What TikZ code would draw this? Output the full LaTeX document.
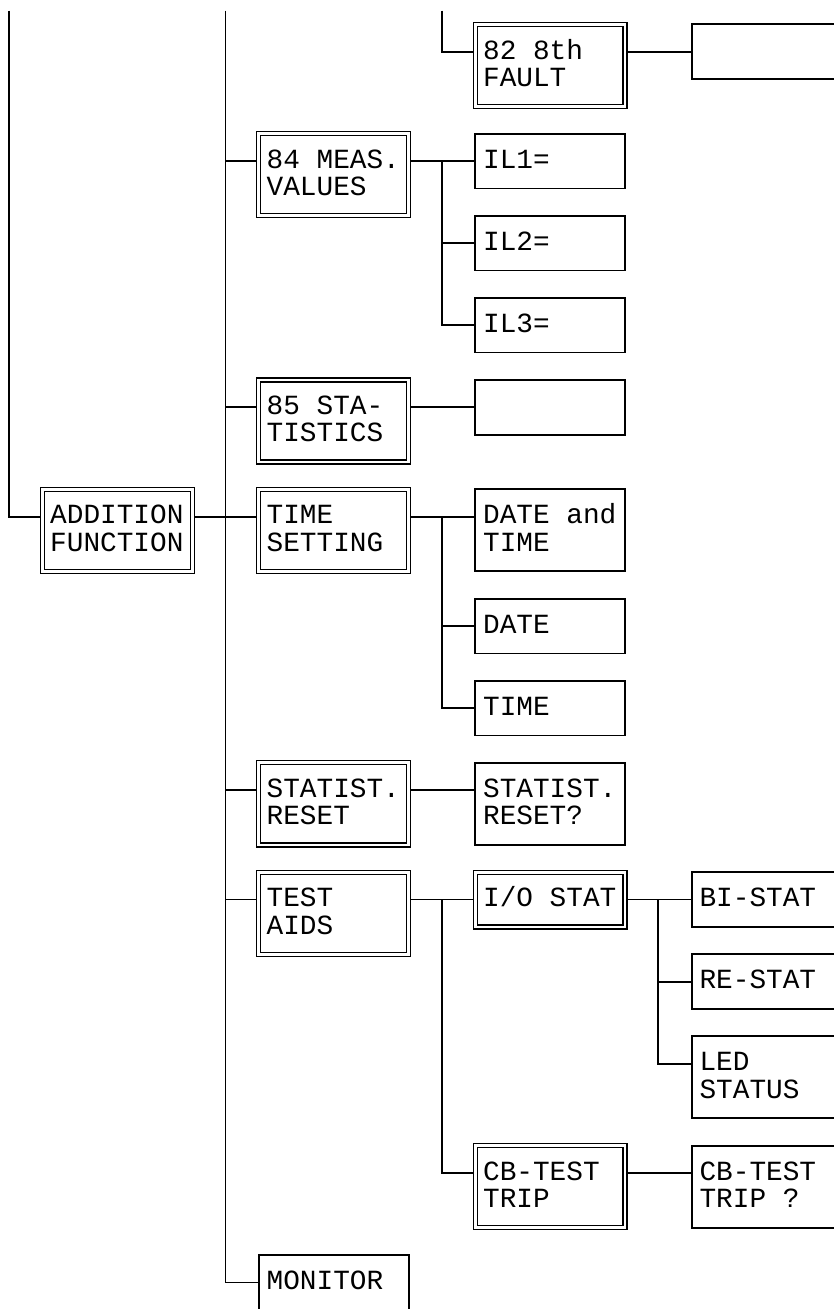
\documentclass[tikz,border=0pt]{standalone}
\usepackage{fontspec}
\newfontfamily\boxfont{Liberation Mono}
\newcommand\mspc{\kern16.65pt\relax}
\tikzset{
  box/.style={rectangle, draw=black, minimum width=149.85pt, text width=134pt,
    inner xsep=7.925pt, inner ysep=0pt, align=left, text height=1ex},
  sbox/.style={box, line width=1.8pt, outer sep=0.9pt},
  dbox/.style={box, line width=1.3pt, double=white, double distance=2.7pt, outer sep=2.65pt},
  one/.style={minimum height=54.7pt, text depth=0pt},
  two/.style={minimum height=82.05pt, text depth=27.35pt},
  conn/.style={line width=1.8pt},
}
\begin{document}
\begin{tikzpicture}[x=16.65pt, y=-27.35pt]
\boxfont\fontsize{27.75pt}{27.35pt}\selectfont
\useasboundingbox (0pt,0pt) rectangle (834pt,-1309pt);
\clip (0pt,0pt) rectangle (834pt,-1309pt);
\begin{scope}[shift={(9pt,-51.7pt)}]
  % bus coordinates
  \coordinate (bA) at (0,-1.5);
  \coordinate (bB) at (13,-1.5);
  \coordinate (bC) at (26,-1.5);
  \coordinate (b2) at (26,0);
  \coordinate (b3) at (39,0);
  % boxes
  \node[dbox,two] (f82) at (32.5,0.5) {82\mspc 8th\\FAULT};
  \node[sbox,one] (e82) at (45.5,0) {};
  \node[dbox,two] (mea) at (19.5,4.5) {84\mspc MEAS.\\VALUES};
  \node[sbox,one] (il1) at (32.5,4) {IL1=};
  \node[sbox,one] (il2) at (32.5,7) {IL2=};
  \node[sbox,one] (il3) at (32.5,10) {IL3=};
  \node[dbox,two] (sta) at (19.5,13.5) {85\mspc STA-\\TISTICS};
  \node[sbox,one] (e85) at (32.5,13) {};
  \node[dbox,two] (add) at (6.5,17.5) {ADDITION\\FUNCTION};
  \node[dbox,two] (tim) at (19.5,17.5) {TIME\\SETTING};
  \node[sbox,two] (dat) at (32.5,17.5) {DATE\mspc and\\TIME};
  \node[sbox,one] (da) at (32.5,21) {DATE};
  \node[sbox,one] (ti) at (32.5,24) {TIME};
  \node[dbox,two] (str) at (19.5,27.5) {STATIST.\\RESET};
  \node[sbox,two] (srq) at (32.5,27.5) {STATIST.\\RESET?};
  \node[dbox,two] (tst) at (19.5,31.5) {TEST\\AIDS};
  \node[dbox,one] (io) at (32.5,31) {I/O\mspc STAT};
  \node[sbox,one] (bi) at (45.5,31) {BI-STAT};
  \node[sbox,one] (re) at (45.5,34) {RE-STAT};
  \node[sbox,two] (led) at (45.5,37.5) {LED\\STATUS};
  \node[dbox,two] (cbt) at (32.5,41.5) {CB-TEST\\TRIP};
  \node[sbox,two] (cbq) at (45.5,41.5) {CB-TEST\\TRIP\mspc ?};
  \node[sbox,one] (mon) at (19.5,45) {MONITOR};
  % connectors
  \draw[conn] (bA) |- (add.mid west);
  \draw[conn] (bB) |- (mon.mid west);
  \foreach \n in {mea,sta,tim,str,tst} \draw[conn] (bB |- \n.mid west) -- (\n.mid west);
  \draw[conn] (add.mid east) -- (tim.mid west);
  \draw[conn] (bC) |- (f82.mid west);
  \draw[conn] (f82.mid east) -- (e82.mid west);
  \draw[conn] (mea.mid east) -- (il1.mid west);
  \draw[conn] (b2 |- il1.mid west) |- (il3.mid west);
  \draw[conn] (b2 |- il2.mid west) -- (il2.mid west);
  \draw[conn] (sta.mid east) -- (e85.mid west);
  \draw[conn] (tim.mid east) -- (dat.mid west);
  \draw[conn] (b2 |- dat.mid west) |- (ti.mid west);
  \draw[conn] (b2 |- da.mid west) -- (da.mid west);
  \draw[conn] (str.mid east) -- (srq.mid west);
  \draw[conn] (tst.mid east) -- (io.mid west);
  \draw[conn] (b2 |- io.mid west) |- (cbt.mid west);
  \draw[conn] (io.mid east) -- (bi.mid west);
  \draw[conn] (b3 |- bi.mid west) |- (led.mid west);
  \draw[conn] (b3 |- re.mid west) -- (re.mid west);
  \draw[conn] (cbt.mid east) -- (cbq.mid west);
\end{scope}
\end{tikzpicture}
\end{document}
